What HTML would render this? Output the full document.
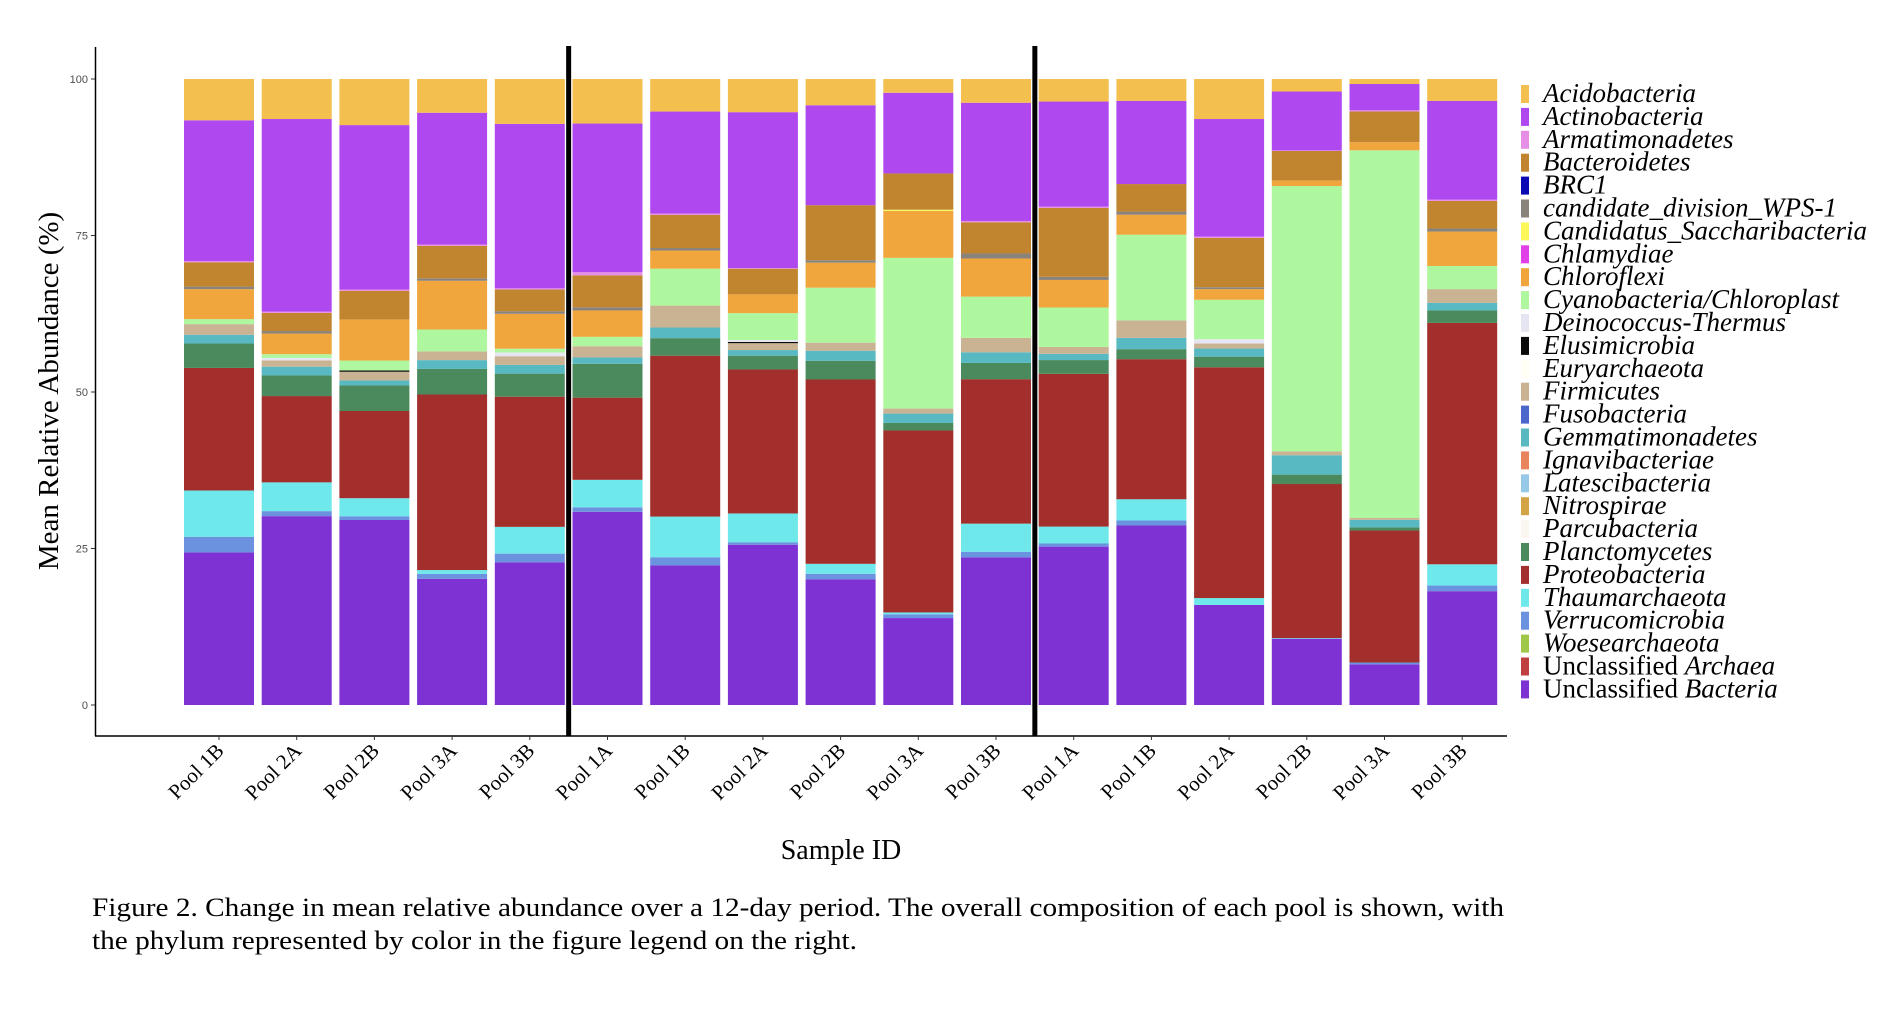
<!DOCTYPE html>
<html><head><meta charset="utf-8">
<style>
html,body{margin:0;padding:0;background:#fff;}
svg{display:block;}
</style></head>
<body>
<svg id="chart" width="1903" height="1009" xmlns="http://www.w3.org/2000/svg">
  <g id="bars"></g>
  <g id="axes"></g>
  <g id="legend"></g>
  <text transform="translate(58,391) rotate(-90)" text-anchor="middle" font-family="Liberation Serif, serif" font-size="29" fill="#000">Mean Relative Abundance (%)</text>
  <text x="841" y="859" text-anchor="middle" font-family="Liberation Serif, serif" font-size="28" fill="#000">Sample ID</text>
  <text x="92" y="916" font-family="Liberation Serif, serif" font-size="26" fill="#000" textLength="1412" lengthAdjust="spacingAndGlyphs">Figure 2. Change in mean relative abundance over a 12-day period. The overall composition of each pool is shown, with</text>
  <text x="92" y="949" font-family="Liberation Serif, serif" font-size="26" fill="#000" textLength="765" lengthAdjust="spacingAndGlyphs">the phylum represented by color in the figure legend on the right.</text>
</svg>
<script>
const categories = ["Pool 1B","Pool 2A","Pool 2B","Pool 3A","Pool 3B","Pool 1A","Pool 1B","Pool 2A","Pool 2B","Pool 3A","Pool 3B","Pool 1A","Pool 1B","Pool 2A","Pool 2B","Pool 3A","Pool 3B"];
const yTicks = [0,25,50,75,100];
const dividerAfter = [5,11];
// series values, stacked bottom-up in this order
const unclassifiedBacteria = [24.4,30.2,29.7,20.2,22.9,30.8,22.3,25.6,20.1,13.9,23.6,25.3,28.7,16.0,10.6,6.5,18.2];
const unclassifiedArchaea  = [0,0,0,0,0,0,0,0,0,0,0,0,0,0,0,0,0];
const woesearchaeota       = [0,0,0,0,0,0,0,0,0,0,0,0,0,0,0,0,0];
const verrucomicrobia      = [2.5,0.8,0.6,0.8,1.4,0.7,1.3,0.4,0.9,0.6,0.9,0.5,0.8,0,0,0.3,0.9];
const thaumarchaeota       = [7.4,4.6,2.9,0.6,4.3,4.4,6.5,4.6,1.6,0.3,4.5,2.7,3.4,1.1,0.1,0,3.4];
const proteobacteria       = [19.6,13.8,14.0,28.1,20.9,13.1,25.7,23.0,29.5,29.1,23.1,24.4,22.4,36.9,24.6,21.1,38.6];
const planctomycetes       = [3.9,3.3,4.1,4.1,3.7,5.4,2.8,2.2,3.0,1.2,2.6,2.2,1.6,1.7,1.5,0.5,2.0];
const parcubacteria        = [0,0,0,0,0,0,0,0,0,0,0,0,0,0,0,0,0];
const nitrospirae          = [0,0,0,0,0,0,0,0,0,0,0,0,0,0,0,0,0];
const latescibacteria      = [0,0,0,0,0,0,0,0,0,0,0,0,0,0,0,0,0];
const ignavibacteriae      = [0,0,0,0,0,0,0,0,0,0,0,0,0,0,0,0,0];
const gemmatimonadetes     = [1.4,1.4,0.8,1.4,1.4,1.0,1.7,0.9,1.6,1.5,1.7,1.0,1.8,1.3,3.1,1.2,1.2];
const fusobacteria         = [0,0,0,0,0,0,0,0,0,0,0,0,0,0,0,0,0];
const firmicutes           = [1.7,1.0,1.4,1.4,1.4,1.8,3.5,1.1,1.3,0.8,2.3,1.1,2.8,0.8,0.6,0.3,2.2];
const euryarchaeota        = [0,0,0,0,0,0,0,0,0,0,0,0,0,0,0,0,0];
const elusimicrobia        = [0,0,0.2,0,0,0,0,0.2,0,0,0,0,0,0,0,0,0];
const deinococcus          = [0,0.4,0,0,0.6,0,0,0.3,0,0,0,0,0,0.7,0,0,0];
const cyanobacteria        = [0.8,0.6,1.6,3.5,0.6,1.5,5.9,4.3,8.8,24.1,6.6,6.3,13.7,6.3,42.4,58.8,3.7];
const chloroflexi          = [4.8,3.3,6.6,7.8,5.6,4.2,2.9,3.0,4.0,7.5,6.1,4.4,3.2,1.7,0.9,1.3,5.5];
const chlamydiae           = [0,0,0,0,0,0,0,0,0,0,0,0,0,0,0,0,0];
const saccharibacteria     = [0,0,0,0,0,0,0,0,0,0.2,0,0,0,0,0,0,0];
const wps1                 = [0.4,0.4,0,0.4,0.4,0.5,0.4,0,0.4,0,0.8,0.5,0.5,0.3,0,0,0.5];
const brc1                 = [0,0,0,0,0,0,0,0,0,0,0,0,0,0,0,0,0];
const bacteroidetes        = [3.9,2.9,4.6,5.2,3.5,5.1,5.3,4.1,8.8,5.8,5.0,11.0,4.4,7.9,4.7,4.9,4.4];
const armatimonadetes      = [0.2,0.2,0.2,0.2,0.2,0.5,0.2,0.1,0,0,0.2,0.2,0,0.2,0.1,0.2,0.2];
const actinobacteria       = [22.5,30.8,26.4,21.1,26.4,23.7,16.3,24.9,16.0,12.9,18.9,16.8,13.3,18.8,9.4,4.2,15.8];
const acidobacteria        = [6.6,6.4,7.4,5.4,7.2,7.1,5.2,5.3,4.2,2.2,3.8,3.6,3.5,6.4,2.0,0.8,3.5];

const legendNames = ["Acidobacteria","Actinobacteria","Armatimonadetes","Bacteroidetes","BRC1","candidate_division_WPS-1","Candidatus_Saccharibacteria","Chlamydiae","Chloroflexi","Cyanobacteria/Chloroplast","Deinococcus-Thermus","Elusimicrobia","Euryarchaeota","Firmicutes","Fusobacteria","Gemmatimonadetes","Ignavibacteriae","Latescibacteria","Nitrospirae","Parcubacteria","Planctomycetes","Proteobacteria","Thaumarchaeota","Verrucomicrobia","Woesearchaeota","Unclassified Archaea","Unclassified Bacteria"];
const legendColors = ["#F3C04F","#B048F0","#E68DE6","#C0852E","#0A0AB4","#8A837B","#FCF85A","#E040E6","#F0A63C","#AFF79E","#E6E6F2","#0A0A0A","#FFFFF6","#C9B393","#4A68CC","#58B9C2","#E8845E","#96C8E8","#D2A446","#FBF6EF","#4A8A5C","#A22F2B","#6EE8EA","#6A92DE","#A0C848","#C04040","#7E32D4"];
const stackSeries = [unclassifiedBacteria,unclassifiedArchaea,woesearchaeota,verrucomicrobia,thaumarchaeota,proteobacteria,planctomycetes,parcubacteria,nitrospirae,latescibacteria,ignavibacteriae,gemmatimonadetes,fusobacteria,firmicutes,euryarchaeota,elusimicrobia,deinococcus,cyanobacteria,chloroflexi,chlamydiae,saccharibacteria,wps1,brc1,bacteroidetes,armatimonadetes,actinobacteria,acidobacteria];
const stackNames = ["Unclassified Bacteria","Unclassified Archaea","Woesearchaeota","Verrucomicrobia","Thaumarchaeota","Proteobacteria","Planctomycetes","Parcubacteria","Nitrospirae","Latescibacteria","Ignavibacteriae","Gemmatimonadetes","Fusobacteria","Firmicutes","Euryarchaeota","Elusimicrobia","Deinococcus-Thermus","Cyanobacteria/Chloroplast","Chloroflexi","Chlamydiae","Candidatus_Saccharibacteria","candidate_division_WPS-1","BRC1","Bacteroidetes","Armatimonadetes","Actinobacteria","Acidobacteria"];

const NS="http://www.w3.org/2000/svg";
const X0=219, PITCH=77.7, BW=70;
function xScale(i){return X0+i*PITCH;}
function yScale(v){return 705 - v*6.26;}
function colorOf(name){return legendColors[legendNames.indexOf(name)];}
function mk(tag,attrs,parent){const e=document.createElementNS(NS,tag);for(const k in attrs)e.setAttribute(k,attrs[k]);parent.appendChild(e);return e;}

const gb=document.getElementById('bars');
categories.forEach((c,i)=>{
  let total=0; stackSeries.forEach(s=>total+=s[i]);
  let cum=0;
  stackSeries.forEach((s,k)=>{
    const v=s[i]/total*100;
    if(v<=0)return;
    const y1=yScale(cum), y2=yScale(cum+v);
    const r=mk('rect',{x:xScale(i)-BW/2,y:y2,width:BW,height:Math.max(0,y1-y2),fill:colorOf(stackNames[k])},gb);
    
    
    cum+=v;
  });
});

const ga=document.getElementById('axes');
let l=mk('line',{x1:95.5,y1:47,x2:95.5,y2:736,stroke:'#000','stroke-width':1.5},ga);


l=mk('line',{x1:95,y1:736,x2:1507,y2:736,stroke:'#000','stroke-width':1.5},ga);


yTicks.forEach(t=>{
  const tk=mk('line',{x1:91,y1:yScale(t),x2:95,y2:yScale(t),stroke:'#333','stroke-width':1},ga);
  
  
  const tx=mk('text',{x:88,y:yScale(t)+4,'text-anchor':'end','font-family':'Liberation Sans, sans-serif','font-size':11,fill:'#4d4d4d'},ga);
  tx.textContent=t;
  
  
});
categories.forEach((c,i)=>{
  const x=xScale(i);
  const tk=mk('line',{x1:x,y1:736,x2:x,y2:740,stroke:'#333','stroke-width':1},ga);
  
  
  const tx=mk('text',{transform:`translate(${x+6},${752}) rotate(-45)`,'text-anchor':'end','font-family':'Liberation Serif, serif','font-size':21,fill:'#000'},ga);
  tx.textContent=c;
  
  
});
dividerAfter.forEach(d=>{
  const x=(xScale(d-1)+xScale(d))/2;
  const v=mk('line',{x1:x,y1:46,x2:x,y2:736,stroke:'#000','stroke-width':5},ga);
  
  
});

const gl=document.getElementById('legend');
legendNames.forEach((n,i)=>{
  const cy=94+i*22.9;
  const k=mk('rect',{x:1521,y:cy-9,width:8,height:18,fill:legendColors[i]},gl);
  
  
  const t=mk('text',{x:1543,y:cy+8,'font-family':'Liberation Serif, serif','font-size':27,fill:'#000'},gl);
  
  
  if(n.startsWith('Unclassified ')){
    const a=document.createElementNS(NS,'tspan');a.textContent='Unclassified ';t.appendChild(a);
    const b=document.createElementNS(NS,'tspan');b.setAttribute('font-style','italic');b.textContent=n.slice(13);t.appendChild(b);
  } else {t.setAttribute('font-style','italic');t.textContent=n;}
});
</script>
</body></html>
